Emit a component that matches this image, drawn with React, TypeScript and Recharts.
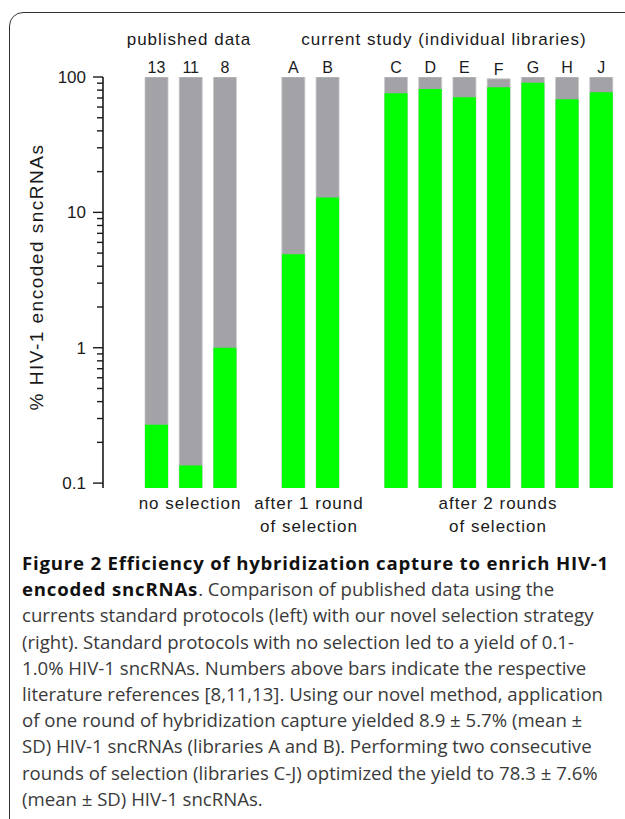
import { BarChart, Bar, XAxis, YAxis, LabelList } from 'recharts';

// slots on the x axis; the two "gap" slots are the empty spaces between groups
const slots = ['p13', 'p11', 'p8', 'gap1', 'A', 'B', 'gap2', 'C', 'D', 'E', 'F', 'G', 'H', 'J'];
const barLabels = ['13', '11', '8', '', 'A', 'B', '', 'C', 'D', 'E', 'F', 'G', 'H', 'J'];
// % of all sncRNAs (grey, total) and % HIV-1 encoded sncRNAs (green)
const totalPct = [100, 100, 100, null, 100, 100, null, 100, 100, 100, 97, 100, 100, 100];
const hivPct = [0.27, 0.135, 1.0, null, 4.9, 12.9, null, 76, 81.5, 71, 84, 90.5, 68.5, 77];

const Y_MIN = 0.092;
const Y_MAX = 100;
const majorTicks = [0.1, 1, 10, 100];
const minorTicks = [
  0.2, 0.3, 0.4, 0.5, 0.6, 0.7, 0.8, 0.9,
  2, 3, 4, 5, 6, 7, 8, 9,
  20, 30, 40, 50, 60, 70, 80, 90,
];
const allTicks = [...majorTicks, ...minorTicks].sort((a, b) => a - b);

const data = slots.map((slot, i) => ({
  slot,
  label: barLabels[i],
  total: totalPct[i],
  hiv: hivPct[i],
}));

const FONT = '"Liberation Sans", Arial, Helvetica, sans-serif';
const INK = '#1a1a1a';
const MINOR_LEN = 6;

// every tick gets the axis' own 6px tick line; majors are lengthened and labelled here
const LogTick = (props: any) => {
  const { x, y, payload } = props;
  if (majorTicks.indexOf(Number(payload.value)) < 0) return <g />;
  return (
    <g>
      <line x1={x - 4} x2={x} y1={y} y2={y} stroke={INK} strokeWidth={1.4} />
      <text x={x - 11} y={y} dy="0.36em" textAnchor="end" fontSize={17} fontFamily={FONT} fill={INK}>
        {payload.value}
      </text>
    </g>
  );
};

const groupText = {
  position: 'absolute' as const,
  fontFamily: FONT,
  fontSize: 17,
  letterSpacing: 1,
  color: INK,
  whiteSpace: 'nowrap' as const,
  transform: 'translateX(-50%)',
  lineHeight: '23px',
  textAlign: 'center' as const,
};

const bold = { color: '#111', letterSpacing: 0.8 };

export default function App() {
  return (
    <div
      style={{
        position: 'fixed',
        left: 0,
        top: 0,
        width: 625,
        height: 819,
        overflow: 'hidden',
        background: '#fff',
      }}
    >
      <div
        style={{
          position: 'absolute',
          left: 9,
          top: 12,
          width: 700,
          height: 900,
          border: '1.5px solid #333',
          borderRadius: 14,
        }}
      />

      <div style={{ position: 'absolute', left: 0, top: 0 }}>
        <BarChart width={625} height={500} data={data} margin={{ top: 77, right: 7, bottom: 12, left: 0 }}>
          <XAxis xAxisId="bg" dataKey="slot" hide padding={{ left: 36, right: 0 }} />
          <XAxis
            xAxisId="fg"
            dataKey="slot"
            height={0}
            tick={false}
            tickLine={false}
            padding={{ left: 36, right: 0 }}
            axisLine={{ stroke: INK, strokeWidth: 1.6 }}
          />
          <YAxis
            type="number"
            scale="log"
            domain={[Y_MIN, Y_MAX]}
            allowDataOverflow
            ticks={allTicks}
            interval={0}
            minTickGap={0}
            width={103}
            tickSize={MINOR_LEN}
            tickMargin={0}
            tickLine={{ stroke: INK, strokeWidth: 1.4 }}
            tick={LogTick}
            axisLine={{ stroke: INK, strokeWidth: 1.6 }}
          />
          <Bar
            xAxisId="bg"
            dataKey="total"
            barSize={23}
            fill="#a2a2a7"
            stroke="#c9c9cc"
            strokeWidth={0.8}
            isAnimationActive={false}
          >
            <LabelList dataKey="label" position="top" offset={4} fontSize={16} fontFamily={FONT} fill={INK} />
          </Bar>
          <Bar xAxisId="fg" dataKey="hiv" barSize={23} fill="#00ff00" isAnimationActive={false} />
        </BarChart>
      </div>

      {/* headers above the groups */}
      <div style={{ ...groupText, left: 189, top: 28 }}>published data</div>
      <div style={{ ...groupText, left: 444, top: 28 }}>current study (individual libraries)</div>

      {/* y axis title */}
      <div
        style={{
          position: 'absolute',
          left: 37,
          top: 277,
          fontFamily: FONT,
          fontSize: 19,
          letterSpacing: 1.5,
          color: INK,
          whiteSpace: 'nowrap',
          transform: 'translate(-50%, -50%) rotate(-90deg)',
        }}
      >
        % HIV-1 encoded sncRNAs
      </div>

      {/* group labels below the axis */}
      <div style={{ ...groupText, left: 190, top: 492 }}>no selection</div>
      <div style={{ ...groupText, left: 309, top: 492 }}>
        after 1 round
        <br />
        of selection
      </div>
      <div style={{ ...groupText, left: 498, top: 492 }}>
        after 2 rounds
        <br />
        of selection
      </div>

      {/* figure caption */}
      <div
        style={{
          position: 'absolute',
          left: 22,
          top: 550,
          fontFamily: '"Open Sans", "Noto Sans", sans-serif',
          fontSize: 18.6,
          lineHeight: '26.2px',
          color: '#3a3a3a',
          whiteSpace: 'nowrap',
        }}
      >
        <b style={bold}>Figure 2 Efficiency of hybridization capture to enrich HIV-1</b>
        <br />
        <b style={bold}>encoded sncRNAs</b>. Comparison of published data using the
        <br />
        currents standard protocols (left) with our novel selection strategy
        <br />
        (right). Standard protocols with no selection led to a yield of 0.1-
        <br />
        1.0% HIV-1 sncRNAs. Numbers above bars indicate the respective
        <br />
        literature references [8,11,13]. Using our novel method, application
        <br />
        of one round of hybridization capture yielded 8.9 ± 5.7% (mean ±
        <br />
        SD) HIV-1 sncRNAs (libraries A and B). Performing two consecutive
        <br />
        rounds of selection (libraries C-J) optimized the yield to 78.3 ± 7.6%
        <br />
        (mean ± SD) HIV-1 sncRNAs.
      </div>
    </div>
  );
}
